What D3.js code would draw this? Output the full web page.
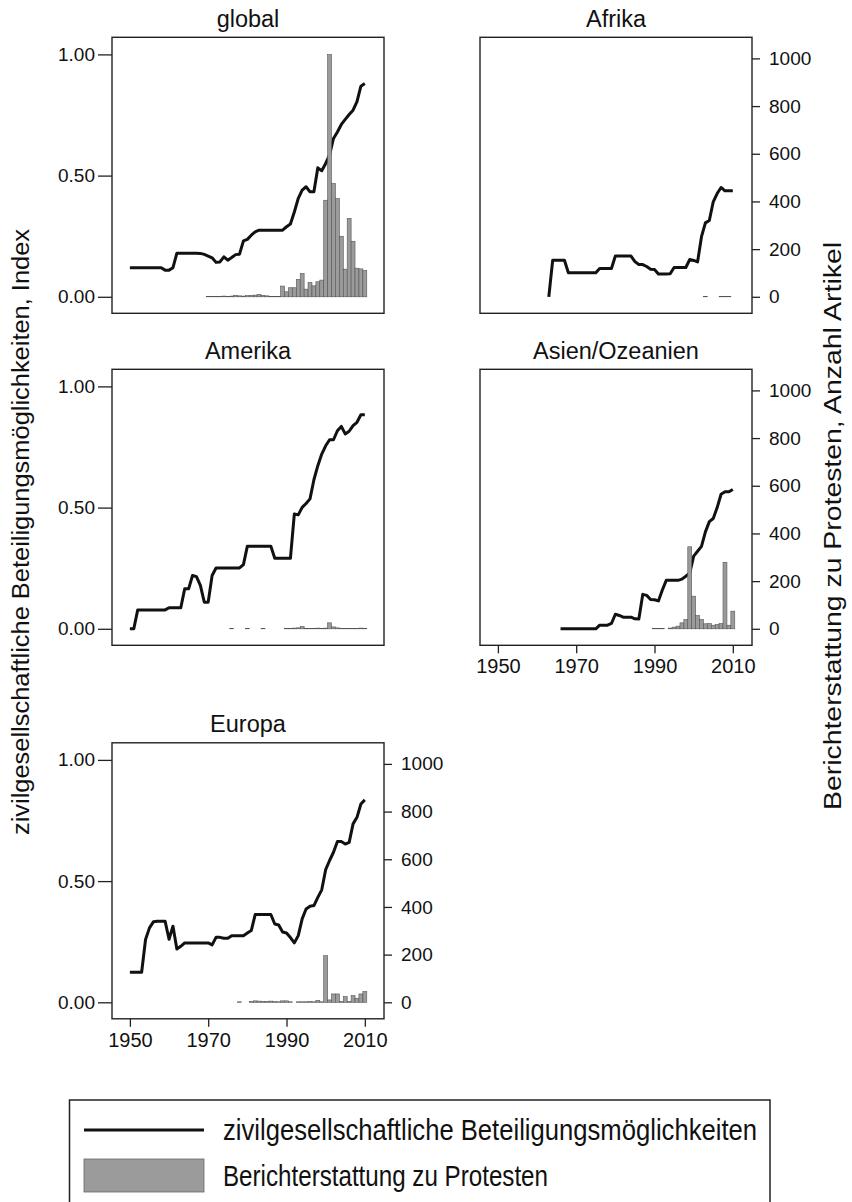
<!DOCTYPE html>
<html><head><meta charset="utf-8">
<script src="https://cdn.jsdelivr.net/npm/d3@7"></script>
<style>
html,body{margin:0;padding:0;background:#fff;}
text{font-family:"Liberation Sans",Arial,Helvetica,sans-serif;fill:#111;}
</style></head>
<body><svg id="chart" width="852" height="1202"></svg>
<script>
// ---------- data ----------
const panelNames = ["global", "Afrika", "Amerika", "Asien/Ozeanien", "Europa"];
const xTicks = [1950, 1970, 1990, 2010];
const leftTicks = [0, 0.5, 1];
const rightTicks = [0, 200, 400, 600, 800, 1000];

// civil-society participation index (yearly, starting at given year)
const globalIndexStart = 1950;
const globalIndex = [0.12,0.12,0.12,0.12,0.12,0.12,0.12,0.12,0.12,0.11,0.11,0.12,
  0.18,0.18,0.18,0.18,0.18,0.18,0.179,0.175,0.168,0.161,0.142,0.144,0.165,0.151,0.162,0.174,0.176,
  0.231,0.237,0.254,0.268,0.275,0.275,0.275,0.275,0.275,0.275,0.275,
  0.289,0.30,0.35,0.406,0.44,0.454,0.433,0.433,0.532,0.52,0.55,0.585,0.653,0.68,0.711,0.732,0.752,0.77,0.805,0.869,0.88];
const afrikaIndexStart = 1963;
const afrikaIndex = [0,0.151,0.151,0.151,0.151,
  0.099,0.099,0.099,0.099,0.099,0.099,0.099,0.099,
  0.117,0.117,0.117,0.117,0.168,0.168,0.168,0.168,0.168,
  0.145,0.133,0.133,0.125,0.114,0.113,0.094,0.094,0.094,0.095,
  0.121,0.121,0.121,0.121,0.154,0.15,0.144,0.248,0.305,0.315,0.392,0.426,0.451,0.437,0.437,0.437];
const amerikaIndexStart = 1950;
const amerikaIndex = [0,0,0.078,0.078,0.078,0.078,0.078,0.078,0.078,0.078,
  0.087,0.087,0.087,0.087,0.165,0.165,0.22,0.215,0.179,0.11,0.11,0.22,
  0.251,0.251,0.251,0.251,0.251,0.251,0.251,0.265,0.341,0.341,0.341,0.341,0.341,0.341,0.341,
  0.291,0.291,0.291,0.291,0.291,0.474,0.47,0.501,0.517,0.536,0.615,0.673,0.721,0.755,0.78,0.78,
  0.817,0.835,0.804,0.815,0.838,0.852,0.883,0.883];
const asienIndexStart = 1966;
const asienIndex = [0,0,0,0,0,0,0,0,0,0,0.015,0.015,0.015,0.022,0.06,0.055,0.048,0.048,0.048,0.041,0.04,
  0.142,0.138,0.121,0.12,0.115,0.16,0.2,0.2,0.2,0.2,0.205,0.217,0.23,0.30,0.32,0.34,0.40,0.442,0.455,0.50,0.555,0.565,0.565,0.575];
const europaIndexStart = 1950;
const europaIndex = [0.124,0.124,0.124,0.124,0.259,0.307,0.332,0.334,0.334,0.334,
  0.26,0.314,0.22,0.231,0.245,0.245,0.245,0.245,0.245,0.245,0.245,
  0.237,0.268,0.268,0.264,0.264,0.275,0.275,0.275,0.275,0.286,0.296,
  0.362,0.362,0.362,0.362,0.362,0.323,0.319,0.29,0.286,0.267,0.245,0.275,0.344,0.385,0.396,0.399,0.433,0.464,
  0.547,0.585,0.619,0.663,0.663,0.653,0.66,0.736,0.763,0.818,0.835];

// protest coverage, number of articles
const globalBarYears = [1970,1971,1972,1973,1974,1975,1976,1977,1978,1979,1980,1981,1982,1983,1984,1985,1986,1987,1988,
  1989,1990,1991,1992,1993,1994,1995,1996,1997,1998,1999,2000,2001,2002,2003,2004,2005,2006,2007,2008,2009,2010];
const globalBars = [1,1,2,2,3,2,3,6,4,3,5,6,7,10,6,4,2,2,2,
  45,21,38,38,73,98,32,60,46,63,70,405,1016,475,412,254,116,329,233,120,117,110];
const afrikaBarYears = [2003,2007,2008,2009];
const afrikaBars = [0,1,2,0];
const amerikaBarYears = [1976,1980,1984,1990,1991,1992,1993,1994,1995,1996,1997,1998,1999,2000,2001,2002,2003,2004,2005,2006,2007,2008,2009,2010];
const amerikaBars = [0,0,0,0,1,3,4,10,2,1,0,3,2,3,25,8,4,2,0,2,2,2,3,2];
const asienBarYears = [1990,1991,1992,1994,1995,1996,1997,1998,1999,2000,2001,2002,2003,2004,2005,2006,2007,2008,2009,2010];
const asienBars = [0,0,0,3,7,11,25,39,344,137,56,39,21,22,15,18,22,279,15,74];
const europaBarYears = [1978,1981,1982,1983,1984,1985,1986,1987,1988,1989,1990,1991,1993,1994,1995,1996,1997,1998,1999,
  2000,2001,2002,2003,2004,2005,2006,2007,2008,2009,2010];
const europaBars = [0,4,6,5,4,4,5,3,2,6,6,1,0,0,2,3,0,8,2,
  196,10,35,35,4,24,4,28,17,35,45];

const yLeftLabel = "zivilgesellschaftliche Beteiligungsmöglichkeiten, Index";
const yRightLabel = "Berichterstattung zu Protesten, Anzahl Artikel";
const legendLabels = ["zivilgesellschaftliche Beteiligungsmöglichkeiten", "Berichterstattung zu Protesten"];

// ---------- layout ----------
const colX = [112, 480];
const rowY = [37.3, 369.3, 742.8];
const W = 272, H = 276;

const toSeries = (start, vals) => vals.map((v, i) => ({year: start + i, v}));
const toBars = (yrs, vals) => yrs.map((y, i) => ({year: y, c: vals[i]}));

const panels = [
  {title: panelNames[0], col: 0, row: 0, left: true, right: false, xaxis: false,
    line: toSeries(globalIndexStart, globalIndex), bars: toBars(globalBarYears, globalBars)},
  {title: panelNames[1], col: 1, row: 0, left: false, right: true, xaxis: false,
    line: toSeries(afrikaIndexStart, afrikaIndex), bars: toBars(afrikaBarYears, afrikaBars)},
  {title: panelNames[2], col: 0, row: 1, left: true, right: false, xaxis: false,
    line: toSeries(amerikaIndexStart, amerikaIndex), bars: toBars(amerikaBarYears, amerikaBars)},
  {title: panelNames[3], col: 1, row: 1, left: false, right: true, xaxis: true,
    line: toSeries(asienIndexStart, asienIndex), bars: toBars(asienBarYears, asienBars)},
  {title: panelNames[4], col: 0, row: 2, left: true, right: true, xaxis: true,
    line: toSeries(europaIndexStart, europaIndex), bars: toBars(europaBarYears, europaBars)}
];

const svg = d3.select("#chart");
const x = d3.scaleLinear().domain([1945.43, 2014.9]).range([0, W]);
const yL = d3.scaleLinear().domain([0, 1]).range([259.5, 17.1]);
const yR = d3.scaleLinear().domain([0, 1000]).range([259.5, 21.1]);

panels.forEach(p => {
  const g = svg.append("g").attr("transform", `translate(${colX[p.col]},${rowY[p.row]})`);

  // title
  g.append("text").attr("x", W / 2).attr("y", -10.6).attr("text-anchor", "middle")
    .style("font-size", "23.5px").text(p.title);

  // line
  const line = d3.line().x(d => x(d.year)).y(d => yL(d.v));
  g.append("path").datum(p.line).attr("d", line)
    .attr("fill", "none").attr("stroke", "#111").attr("stroke-width", 3)
    .attr("stroke-linejoin", "round").attr("stroke-linecap", "butt");

  // bars
  const bw = x(1) - x(0);
  g.selectAll("rect.bar").data(p.bars).join("rect").attr("class", "bar")
    .attr("x", d => x(d.year) - bw / 2).attr("width", bw)
    .attr("y", d => Math.min(yR(d.c), yR(0) - 0.5))
    .attr("height", d => Math.max(yR(0) - yR(d.c), 0.5))
    .attr("fill", "#9b9b9b").attr("stroke", "#555").attr("stroke-width", 0.6);

  // frame
  g.append("rect").attr("x", 0).attr("y", 0).attr("width", W).attr("height", H)
    .attr("fill", "none").attr("stroke", "#222").attr("stroke-width", 1.4);

  if (p.left) {
    const ax = g.append("g").call(d3.axisLeft(yL).tickValues(leftTicks).tickFormat(d3.format(".2f"))
      .tickSize(14).tickPadding(3));
    ax.select(".domain").remove();
    ax.selectAll("line").attr("stroke", "#222").attr("stroke-width", 1.3);
    ax.selectAll("text").style("font-size", "19px").attr("fill", "#111");
  }
  if (p.right) {
    const ax = g.append("g").attr("transform", `translate(${W},0)`)
      .call(d3.axisRight(yR).tickValues(rightTicks).tickFormat(d3.format("d")).tickSize(8).tickPadding(9));
    ax.select(".domain").remove();
    ax.selectAll("line").attr("stroke", "#222").attr("stroke-width", 1.3);
    ax.selectAll("text").style("font-size", "19px").attr("fill", "#111");
  }
  if (p.xaxis) {
    const ax = g.append("g").attr("transform", `translate(0,${H})`)
      .call(d3.axisBottom(x).tickValues(xTicks).tickFormat(d3.format("d")).tickSize(8).tickPadding(6));
    ax.select(".domain").remove();
    ax.selectAll("line").attr("stroke", "#222").attr("stroke-width", 1.3);
    ax.selectAll("text").style("font-size", "20px").attr("fill", "#111");
  }
});

// axis titles
svg.append("text").attr("transform", "translate(29,532) rotate(-90)")
  .attr("text-anchor", "middle").style("font-size", "23.5px")
  .attr("textLength", 606).attr("lengthAdjust", "spacingAndGlyphs").text(yLeftLabel);
svg.append("text").attr("transform", "translate(841,526) rotate(-90)")
  .attr("text-anchor", "middle").style("font-size", "23.5px")
  .attr("textLength", 568).attr("lengthAdjust", "spacingAndGlyphs").text(yRightLabel);

// legend
const lg = svg.append("g");
lg.append("rect").attr("x", 69.5).attr("y", 1100).attr("width", 700.5).attr("height", 130)
  .attr("fill", "none").attr("stroke", "#222").attr("stroke-width", 1.5);
lg.append("line").attr("x1", 84).attr("x2", 204).attr("y1", 1130).attr("y2", 1130)
  .attr("stroke", "#111").attr("stroke-width", 3);
lg.append("rect").attr("x", 84).attr("y", 1159).attr("width", 120).attr("height", 33)
  .attr("fill", "#9b9b9b").attr("stroke", "#666").attr("stroke-width", 0.8);
lg.append("text").attr("x", 223).attr("y", 1130).attr("dy", "0.35em").style("font-size", "29px")
  .attr("textLength", 534).attr("lengthAdjust", "spacingAndGlyphs").text(legendLabels[0]);
lg.append("text").attr("x", 223).attr("y", 1175.5).attr("dy", "0.35em").style("font-size", "29px")
  .attr("textLength", 325).attr("lengthAdjust", "spacingAndGlyphs").text(legendLabels[1]);
</script></body></html>
